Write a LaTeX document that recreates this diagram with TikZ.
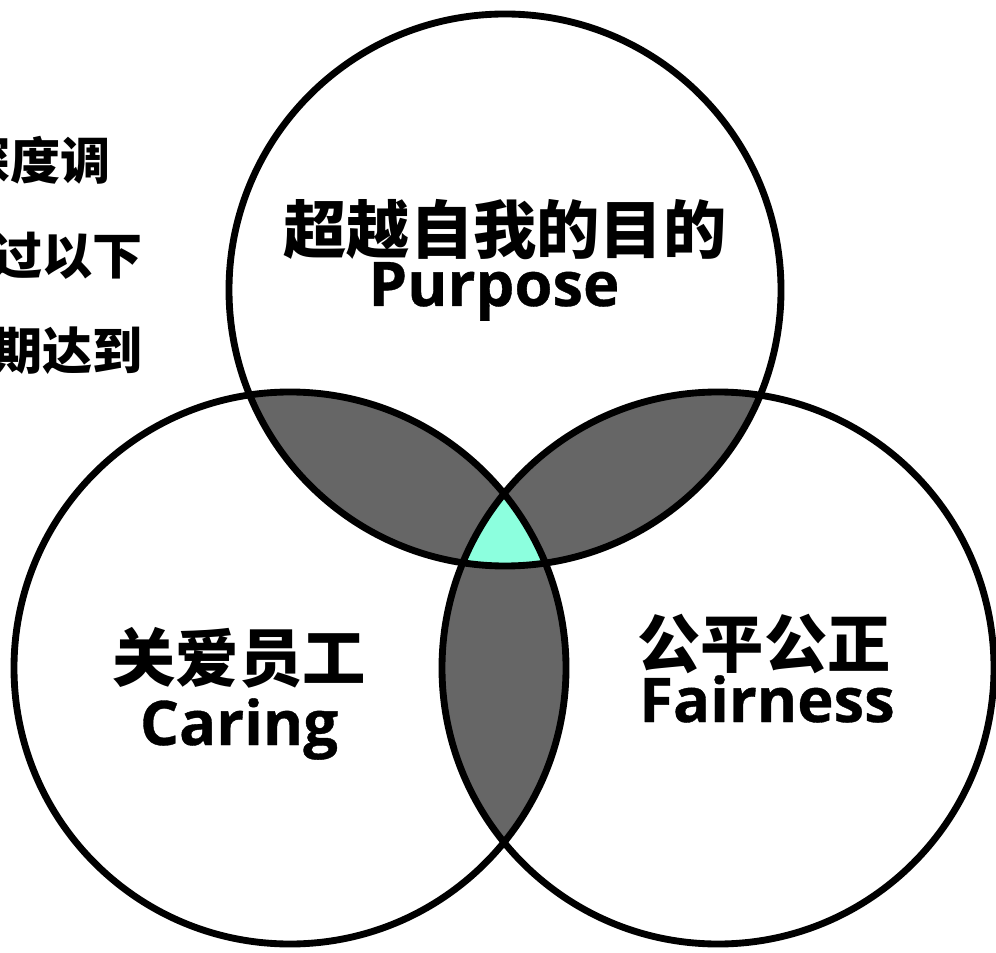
\documentclass[tikz,border=0pt]{standalone}
\usepackage{fontspec}
\newfontfamily\cjk{Noto Sans CJK SC}
\newfontfamily\latinfont{Open Sans}[FakeBold=0.6]

\definecolor{lensgray}{HTML}{666666}
\definecolor{coremint}{HTML}{8CFFDE}

\tikzset{
  ring/.style={line width=3.9pt},
  cntitle/.style={font=\cjk\bfseries\fontsize{36}{36}\selectfont, inner sep=0pt, anchor=base},
  entitle/.style={font=\latinfont\bfseries\fontsize{35}{35}\selectfont, inner sep=0pt, anchor=base},
  sidetext/.style={font=\cjk\bfseries\fontsize{28.5}{28.5}\selectfont, inner sep=0pt, anchor=base east},
}

\begin{document}
\begin{tikzpicture}[x=0.2mm, y=-0.2mm]

  \clip (0,0) rectangle (996,953);
  \fill[white] (0,0) rectangle (996,953);

  % circle centres
  \coordinate (purp) at (505,290);
  \coordinate (care) at (290,668);
  \coordinate (fair) at (718,668);

  % pairwise overlaps
  \begin{scope}
    \clip (purp) circle[radius=5.52cm];
    \fill[lensgray] (care) circle[radius=5.52cm];
    \fill[lensgray] (fair) circle[radius=5.52cm];
  \end{scope}
  \begin{scope}
    \clip (care) circle[radius=5.52cm];
    \fill[lensgray] (fair) circle[radius=5.52cm];
  \end{scope}

  % common core
  \begin{scope}
    \clip (purp) circle[radius=5.52cm];
    \clip (care) circle[radius=5.52cm];
    \fill[coremint] (fair) circle[radius=5.52cm];
  \end{scope}

  % outlines
  \draw[ring] (purp) circle[radius=5.52cm];
  \draw[ring] (care) circle[radius=5.52cm];
  \draw[ring] (fair) circle[radius=5.52cm];

  % titles
  \node[cntitle] (purpcn) at (505,254) {超越自我的目的};
  \node[entitle] (purpen) at (494,306) {Purpose};
  \node[cntitle] (carecn) at (239,681) {关爱员工};
  \node[entitle] (careen) at (239,745) {Caring};
  \node[cntitle] (faircn) at (764,667) {公平公正};
  \node[entitle] (fairen) at (767,722) {Fairness};

  % cut-off text on the left
  \node[sidetext] (side1) at (111,180) {深度调};
  \node[sidetext] (side2) at (143,275) {过以下};
  \node[sidetext] (side3) at (143,370) {期达到};

\end{tikzpicture}
\end{document}
